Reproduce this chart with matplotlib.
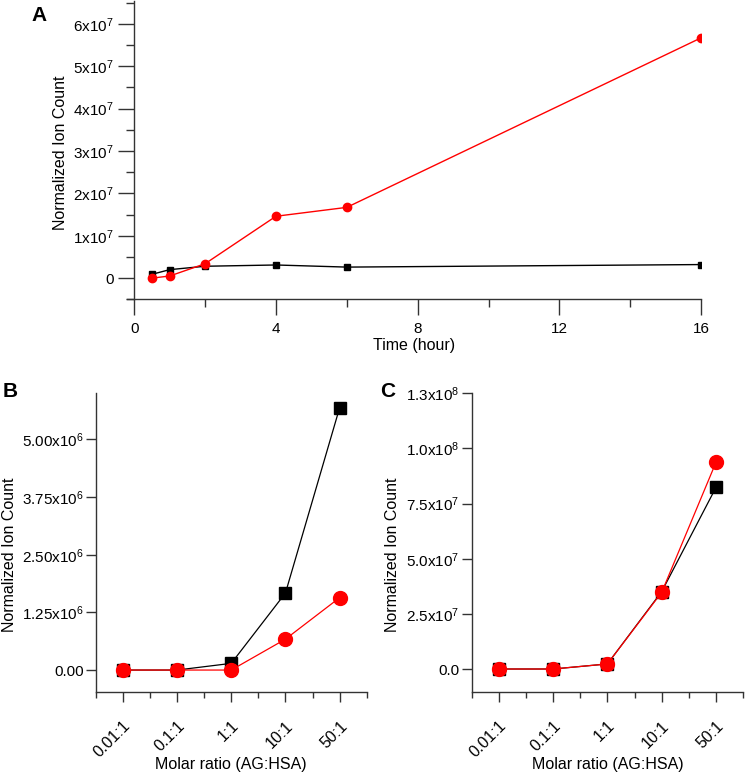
import numpy as np
import matplotlib
matplotlib.use("Agg")
import matplotlib.pyplot as plt
from matplotlib.ticker import MultipleLocator, FixedLocator

plt.rcParams["font.family"] = ["Liberation Sans", "DejaVu Sans"]
plt.rcParams["mathtext.fontset"] = "custom"
plt.rcParams["mathtext.rm"] = "Liberation Sans"
plt.rcParams["mathtext.it"] = "Liberation Sans:italic"
plt.rcParams["mathtext.bf"] = "Liberation Sans:bold"

# panel A: time course
time_h = [0.5, 1, 2, 4, 6, 16]
a_black = [0.09e7, 0.20e7, 0.28e7, 0.31e7, 0.26e7, 0.32e7]
a_red = [0.0, 0.05e7, 0.34e7, 1.46e7, 1.67e7, 5.67e7]
a_yticks = [0, 1e7, 2e7, 3e7, 4e7, 5e7, 6e7]
a_ylabels = ["0"] + [r"%dx10$^{7}$" % i for i in range(1, 7)]

# panels B and C: molar ratio
ratios = ["0.01:1", "0.1:1", "1:1", "10:1", "50:1"]
b_black = [0.0, 0.0, 0.145e6, 1.67e6, 5.69e6]
b_red = [0.0, 0.0, 0.0, 0.67e6, 1.57e6]
b_yticks = [0, 1.25e6, 2.5e6, 3.75e6, 5e6]
b_ylabels = ["0.00", r"1.25x10$^{6}$", r"2.50x10$^{6}$", r"3.75x10$^{6}$", r"5.00x10$^{6}$"]

c_black = [0.0, 0.0, 0.23e7, 3.51e7, 8.24e7]
c_red = [0.0, 0.0, 0.23e7, 3.48e7, 9.38e7]
c_yticks = [0, 2.5e7, 5e7, 7.5e7, 1e8, 1.25e8]
c_ylabels = ["0.0", r"2.5x10$^{7}$", r"5.0x10$^{7}$", r"7.5x10$^{7}$",
             r"1.0x10$^{8}$", r"1.3x10$^{8}$"]

RED = "#ff0000"
AX = "#333333"

fig = plt.figure(figsize=(7.45, 7.76), dpi=100)


def style(ax, fs):
    for s in ["top", "right"]:
        ax.spines[s].set_visible(False)
    for s in ["left", "bottom"]:
        ax.spines[s].set_color(AX)
        ax.spines[s].set_linewidth(1.0)
    ax.tick_params(which="both", direction="out", color=AX, width=1.0,
                   labelsize=fs)


# ---- A ----
axA = fig.add_axes([0.170, 0.6143, 0.771, 0.3844])
axA.plot(time_h, a_black, color="black", lw=1.0, marker="s", ms=5, zorder=3)
axA.plot(time_h, a_red, color=RED, lw=1.0, marker="o", ms=6, zorder=4)
axA.set_xlim(-0.215, 16)
axA.set_ylim(-0.5e7, 6.54e7)
style(axA, 11)
axA.spines["left"].set_position(("data", 0))
axA.xaxis.set_major_locator(MultipleLocator(4))
axA.xaxis.set_minor_locator(MultipleLocator(2))
axA.set_yticks(a_yticks)
axA.set_yticklabels(a_ylabels)
axA.yaxis.set_minor_locator(MultipleLocator(0.5e7))
axA.tick_params(which="major", length=11.5)
axA.tick_params(which="minor", length=5.8)
axA.tick_params(axis="y", pad=3.5)
axA.tick_params(axis="x", pad=5)
axA.set_xlabel("Time (hour)", fontsize=11.5, labelpad=1)
axA.set_ylabel("Normalized Ion Count", fontsize=11.5)
axA.yaxis.set_label_coords(-0.102, 0.49)
fig.text(0.042, 0.992, "A", fontsize=15, fontweight="bold", va="top", ha="left")


def ratio_panel(rect, black, red, yticks, ylabels, ylim, letter, lx, letter_x):
    ax = fig.add_axes(rect)
    x = np.arange(len(ratios))
    ax.plot(x, black, color="black", lw=0.9, marker="s", ms=8.5, zorder=3,
            clip_on=False)
    ax.plot(x, red, color=RED, lw=0.9, marker="o", ms=10, zorder=4,
            clip_on=False)
    ax.set_xlim(-0.5, 4.5)
    ax.set_ylim(*ylim)
    style(ax, 11)
    ax.set_xticks(x)
    ax.set_xticklabels(ratios, rotation=45, ha="right", va="top",
                       rotation_mode="anchor", fontsize=11.5)
    ax.xaxis.set_minor_locator(FixedLocator(np.arange(-0.5, 5, 1.0)))
    ax.set_yticks(yticks)
    ax.set_yticklabels(ylabels)
    ax.tick_params(which="major", length=7)
    ax.tick_params(which="minor", length=4)
    ax.tick_params(axis="y", pad=1.5)
    ax.tick_params(axis="x", pad=12)
    ax.set_xlabel("Molar ratio (AG:HSA)", fontsize=11.5)
    ax.xaxis.set_label_coords(0.5, -0.218)
    ax.set_ylabel("Normalized Ion Count", fontsize=11.5)
    ax.yaxis.set_label_coords(lx, 0.46)
    fig.text(letter_x, 0.508, letter, fontsize=15, fontweight="bold",
             va="top", ha="left")
    return ax


axB = ratio_panel([0.1285, 0.1086, 0.3638, 0.3845], b_black, b_red,
                  b_yticks, b_ylabels, (-0.47e6, 6.0e6), "B", -0.29, 0.003)
axC = ratio_panel([0.633, 0.1086, 0.3646, 0.3845], c_black, c_red,
                  c_yticks, c_ylabels, (-1.03e7, 1.25e8), "C", -0.262, 0.510)

fig.savefig("out.png", dpi=100)
